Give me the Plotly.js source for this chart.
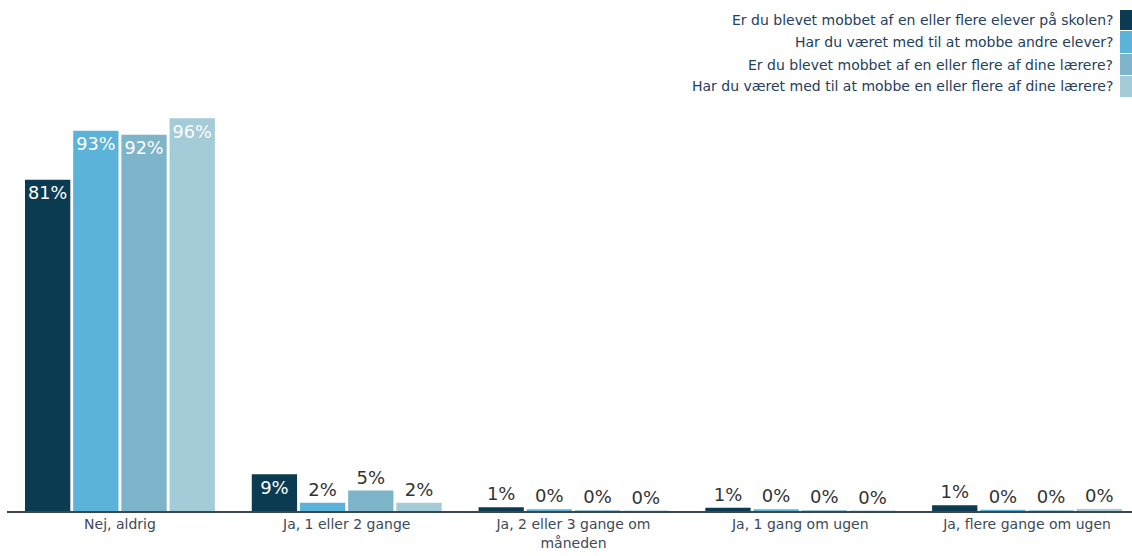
<!DOCTYPE html>
<html>
<head>
<meta charset="utf-8">
<script src="https://cdn.plot.ly/plotly-3.0.1.min.js"></script>
<style>html,body{margin:0;padding:0;background:#fff;}#chart{width:1132px;height:556px;}</style>
</head>
<body>
<div id="chart"></div>
<script>
const categories = ["Nej, aldrig", "Ja, 1 eller 2 gange", "Ja, 2 eller 3 gange om<br>måneden", "Ja, 1 gang om ugen", "Ja, flere gange om ugen"];
const seriesNames = [
  "Er du blevet mobbet af en eller flere elever på skolen?",
  "Har du været med til at mobbe andre elever?",
  "Er du blevet mobbet af en eller flere af dine lærere?",
  "Har du været med til at mobbe en eller flere af dine lærere?"
];
const s1 = [81, 9, 0.9, 0.8, 1.4];
const s2 = [93, 2, 0.4, 0.4, 0.3];
const s3 = [92, 5, 0.2, 0.2, 0.2];
const s4 = [96, 2, 0.1, 0.1, 0.5];
const s1Labels = ["81%", "9%", "1%", "1%", "1%"];
const s2Labels = ["93%", "2%", "0%", "0%", "0%"];
const s3Labels = ["92%", "5%", "0%", "0%", "0%"];
const s4Labels = ["96%", "2%", "0%", "0%", "0%"];
const colors = ["#0b3b51", "#5bb3d9", "#7db4c9", "#a3cbd8"];

const allVals = [s1, s2, s3, s4];
const allLabels = [s1Labels, s2Labels, s3Labels, s4Labels];
const FONT = "DejaVu Sans, Verdana, sans-serif";

const traces = allVals.map((vals, i) => ({
  type: "bar",
  name: seriesNames[i],
  x: [0, 1, 2, 3, 4],
  y: vals,
  text: allLabels[i],
  textposition: vals.map(v => v >= 8 ? "inside" : "outside"),
  insidetextanchor: "end",
  textangle: 0,
  cliponaxis: false,
  insidetextfont: {family: FONT, size: 18, color: "#ffffff"},
  outsidetextfont: {family: FONT, size: 18, color: "#333333"},
  marker: {color: colors[i]},
  hoverinfo: "none"
}));

// plot area in pixels: left 7, right 1132, top 102, bottom 511
const L = 7, R = 0, T = 102, B = 45, W = 1132 - L - R, H = 556 - T - B;
const px2x = p => (p - L) / W;
const py2y = p => (556 - B - p) / H;

const annotations = [];
const shapes = [];
const rowTop = [10, 31, 54, 76];
const rowH = [20, 22, 21, 21];
seriesNames.forEach((n, i) => {
  shapes.push({type: "rect", xref: "paper", yref: "paper",
    x0: px2x(1120), x1: px2x(1133), y0: py2y(rowTop[i] + rowH[i]), y1: py2y(rowTop[i]),
    fillcolor: colors[i], line: {width: 0}, layer: "above"});
  annotations.push({xref: "paper", yref: "paper", x: px2x(1115), y: py2y(rowTop[i] + rowH[i] / 2),
    xanchor: "right", yanchor: "middle", showarrow: false, text: n,
    font: {family: FONT, size: 14, color: "#24405e"}});
});

const layout = {
  width: 1132, height: 556,
  margin: {l: L, r: R, t: T, b: B, pad: 0},
  paper_bgcolor: "#ffffff", plot_bgcolor: "#ffffff",
  barmode: "group", bargap: 0.15, bargroupgap: 0.06,
  showlegend: false,
  xaxis: {
    range: [-0.498, 4.463], tickmode: "array", tickvals: [0, 1, 2, 3, 4], ticktext: categories,
    showline: true, linecolor: "#3b4650", linewidth: 1.5, showgrid: false, zeroline: false,
    ticks: "", tickfont: {family: FONT, size: 14, color: "#3d4a57"}, fixedrange: true
  },
  yaxis: {range: [0, 100], visible: false, showgrid: false, zeroline: false, fixedrange: true},
  annotations: annotations,
  shapes: shapes,
  font: {family: FONT}
};

Plotly.newPlot("chart", traces, layout, {displayModeBar: false, staticPlot: true});
</script>
</body>
</html>
